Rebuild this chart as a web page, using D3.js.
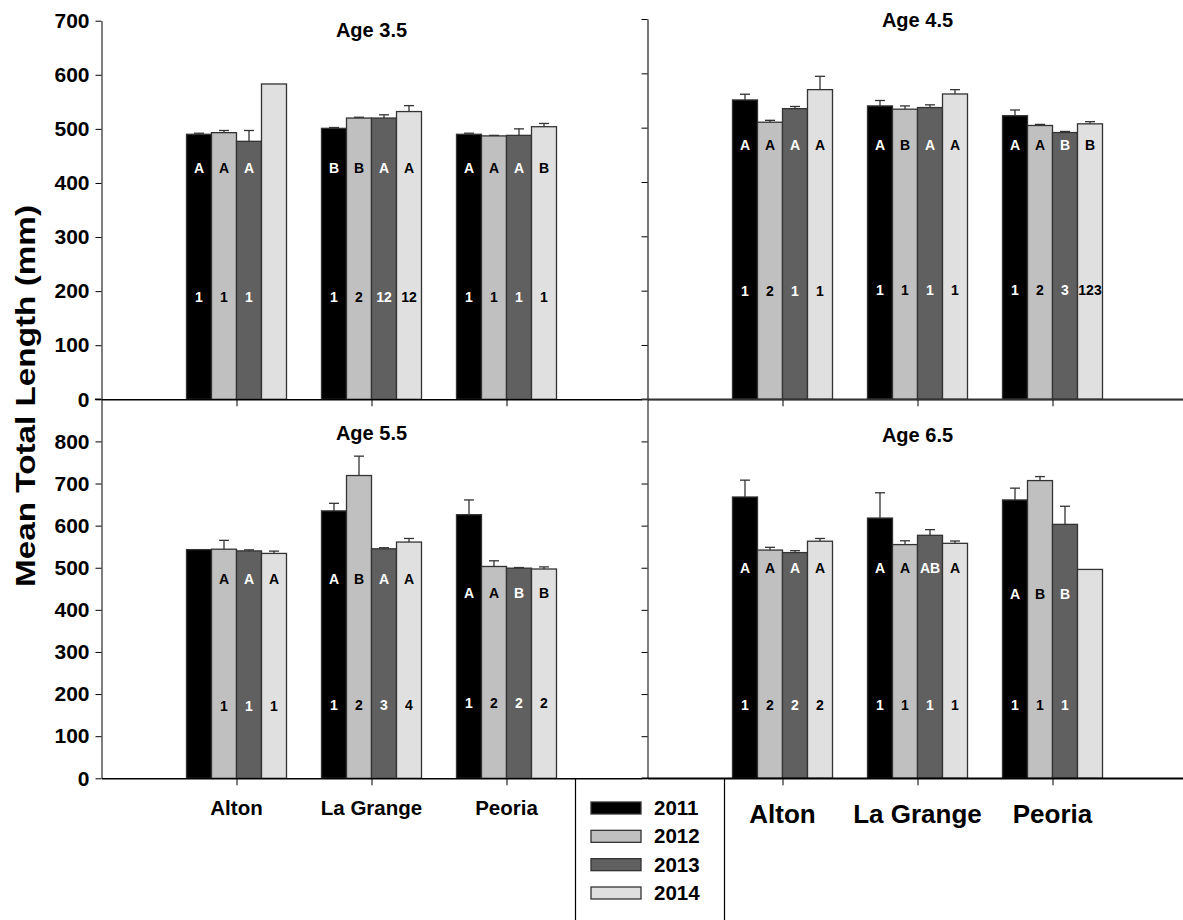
<!DOCTYPE html>
<html>
<head>
<meta charset="utf-8">
<script src="https://cdn.jsdelivr.net/npm/d3@7"></script>
<style>
  html, body { margin: 0; padding: 0; background: #fff; }
  svg { display: block; font-family: "Liberation Sans", Arial, sans-serif; font-weight: bold; }
</style>
</head>
<body>
<svg id="chart" width="1183" height="920"></svg>
<script>
// ---------------- DATA ----------------
const sites = ["Alton", "La Grange", "Peoria"];
const years = ["2011", "2012", "2013", "2014"];
const ageTitles = ["Age 3.5", "Age 4.5", "Age 5.5", "Age 6.5"];
const yTicksTop = [0, 100, 200, 300, 400, 500, 600, 700];
const yTicksBottom = [0, 100, 200, 300, 400, 500, 600, 700, 800];

// mean total length (mm) [site][year]
const meanAge35 = [[490, 493, 477, 583], [501, 520, 520, 532], [490, 487, 488, 504]];
const meanAge45 = [[551, 510, 535, 570], [540, 534, 537, 562], [522, 504, 491, 507]];
const meanAge55 = [[543, 544, 540, 534], [635, 719, 545, 561], [626, 503, 499, 497]];
const meanAge65 = [[668, 542, 536, 563], [618, 555, 577, 558], [661, 707, 603, 496]];
// standard error (upper bar)
const seAge35 = [[2, 4, 20, 0], [1.5, 1.5, 6, 11], [2, 1, 12, 6]];
const seAge45 = [[10.5, 3.5, 4, 24.5], [10, 6, 5, 8], [10.5, 2, 2, 4]];
const seAge55 = [[0, 21, 2.5, 5.5], [18, 46, 2.5, 8.5], [35, 13.5, 1.5, 5]];
const seAge65 = [[40, 6.5, 4.5, 6.5], [60, 9, 13.5, 5.5], [28, 9.5, 43, 0]];
// significance letters (among sites) and numbers (among years)
const lettersAge35 = [["A", "A", "A", ""], ["B", "B", "A", "A"], ["A", "A", "A", "B"]];
const lettersAge45 = [["A", "A", "A", "A"], ["A", "B", "A", "A"], ["A", "A", "B", "B"]];
const lettersAge55 = [["", "A", "A", "A"], ["A", "B", "A", "A"], ["A", "A", "B", "B"]];
const lettersAge65 = [["A", "A", "A", "A"], ["A", "A", "AB", "A"], ["A", "B", "B", ""]];
const numbersAge35 = [["1", "1", "1", ""], ["1", "2", "12", "12"], ["1", "1", "1", "1"]];
const numbersAge45 = [["1", "2", "1", "1"], ["1", "1", "1", "1"], ["1", "2", "3", "123"]];
const numbersAge55 = [["", "1", "1", "1"], ["1", "2", "3", "4"], ["1", "2", "2", "2"]];
const numbersAge65 = [["1", "2", "2", "2"], ["1", "1", "1", "1"], ["1", "1", "1", ""]];

// ---------------- LAYOUT ----------------
const colors = { "2011": "#000000", "2012": "#c0c0c0", "2013": "#606060", "2014": "#e0e0e0" };
const step = 135;
const panels = [
  { title: ageTitles[0], mean: meanAge35, se: seAge35, letters: lettersAge35, numbers: numbersAge35,
    ax: 101.5, y0: 399.3, yTop: 20.7, ymax: 700, ticks: yTicksTop, labels: true, titleY: 37,
    letterLv: [428, 428, 428], numberLv: [189, 189, 189], axisColor: "#000" },
  { title: ageTitles[1], mean: meanAge45, se: seAge45, letters: lettersAge45, numbers: numbersAge45,
    ax: 647.5, y0: 399.3, yTop: 19, ymax: 700, ticks: yTicksTop, labels: false, titleY: 27,
    letterLv: [468, 468, 468], numberLv: [199, 202, 202], axisColor: "#777" },
  { title: ageTitles[2], mean: meanAge55, se: seAge55, letters: lettersAge55, numbers: numbersAge55,
    ax: 101.5, y0: 778.3, yTop: 399.3, ymax: 900, ticks: yTicksBottom, labels: true, titleY: 440,
    letterLv: [474, 474, 440], numberLv: [172, 174, 178], axisColor: "#000" },
  { title: ageTitles[3], mean: meanAge65, se: seAge65, letters: lettersAge65, numbers: numbersAge65,
    ax: 647.5, y0: 778.3, yTop: 399.3, ymax: 900, ticks: yTicksBottom, labels: false, titleY: 442,
    letterLv: [500, 500, 438], numberLv: [174, 174, 174], axisColor: "#000" }
];

const svg = d3.select("#chart");
const inner = d3.scaleBand().domain(years).range([-50, 50]).padding(0);

panels.forEach((p, pi) => {
  const x = d3.scalePoint().domain(["", ...sites, " "]).range([p.ax, p.ax + 4 * step]);
  const y = d3.scaleLinear().domain([0, p.ymax]).range([p.y0, p.yTop]);
  const g = svg.append("g");

  // y axis
  const yAxis = d3.axisLeft(y).tickValues(p.ticks).tickSize(6).tickSizeOuter(0)
    .tickFormat(p.labels ? d3.format("d") : () => "");
  const ya = g.append("g").attr("transform", `translate(${p.ax},0)`).call(yAxis);
  ya.select(".domain").attr("stroke", p.axisColor).attr("stroke-width", p.axisColor === "#000" ? 1 : 2);
  ya.selectAll(".tick line").attr("stroke", "#000");
  ya.selectAll(".tick text").attr("font-size", 21).attr("font-weight", "bold")
    .attr("font-family", "Liberation Sans, Arial, sans-serif").attr("fill", "#000").attr("dx", -3);

  // bars
  sites.forEach((s, si) => {
    years.forEach((yr, yi) => {
      const v = p.mean[si][yi];
      const e = p.se[si][yi];
      const bx = x(s) + inner(yr);
      const bw = inner.bandwidth();
      g.append("rect")
        .attr("x", bx).attr("y", y(v))
        .attr("width", bw).attr("height", y(0) - y(v))
        .attr("fill", colors[yr])
        .attr("stroke", "#333").attr("stroke-width", 1.3);
      if (e > 0) {
        const cx = bx + bw / 2;
        g.append("line").attr("x1", cx).attr("x2", cx).attr("y1", y(v)).attr("y2", y(v + e))
          .attr("stroke", "#333").attr("stroke-width", 1.3);
        g.append("line").attr("x1", cx - 5).attr("x2", cx + 5).attr("y1", y(v + e)).attr("y2", y(v + e))
          .attr("stroke", "#333").attr("stroke-width", 1.3);
      }
      const txtColor = (yr === "2011" || yr === "2013") ? "#fff" : "#000";
      const lt = p.letters[si][yi];
      if (lt) {
        g.append("text").attr("x", bx + bw / 2).attr("y", y(p.letterLv[si]))
          .attr("text-anchor", "middle").attr("dominant-baseline", "central")
          .attr("font-size", 14).attr("fill", txtColor).text(lt);
      }
      const nt = p.numbers[si][yi];
      if (nt) {
        g.append("text").attr("x", bx + bw / 2).attr("y", y(p.numberLv[si]))
          .attr("text-anchor", "middle").attr("dominant-baseline", "central")
          .attr("font-size", 14).attr("fill", txtColor).text(nt);
      }
    });
  });

  // x axis
  const xAxis = d3.axisBottom(x).tickValues(sites).tickSize(7).tickSizeOuter(0).tickFormat(() => "");
  const xa = g.append("g").attr("transform", `translate(0,${p.y0})`).call(xAxis);
  xa.select(".domain").attr("stroke", "#000").attr("stroke-width", 1.5);

  // title
  g.append("text").attr("x", x(sites[1])).attr("y", p.titleY)
    .attr("text-anchor", "middle").attr("font-size", 20).attr("fill", "#000").text(p.title);
});

// extend axis lines between/around panels
svg.append("line").attr("x1", 95).attr("x2", 101.5).attr("y1", 399.3).attr("y2", 399.3).attr("stroke", "#000").attr("stroke-width", 1.5);
svg.append("line").attr("x1", 641.5).attr("x2", 1183).attr("y1", 399.3).attr("y2", 399.3).attr("stroke", "#333").attr("stroke-width", 1.5);
svg.append("line").attr("x1", 641.5).attr("x2", 1183).attr("y1", 778.3).attr("y2", 778.3).attr("stroke", "#000").attr("stroke-width", 1.5);

// x category labels (bottom panels)
const xl = d3.scalePoint().domain(["", ...sites, " "]).range([101.5, 101.5 + 4 * step]);
const xr = d3.scalePoint().domain(["", ...sites, " "]).range([647.5, 647.5 + 4 * step]);
svg.append("g").selectAll("text").data(sites).join("text")
  .attr("x", d => xl(d)).attr("y", 815).attr("text-anchor", "middle")
  .attr("font-size", 20.5).attr("fill", "#000").text(d => d);
svg.append("g").selectAll("text").data(sites).join("text")
  .attr("x", d => xr(d)).attr("y", 823).attr("text-anchor", "middle")
  .attr("font-size", 26).attr("fill", "#000").text(d => d);

// y title
svg.append("text").attr("transform", "translate(35,396) rotate(-90)")
  .attr("text-anchor", "middle").attr("font-size", 28).attr("fill", "#000")
  .attr("textLength", 382).attr("lengthAdjust", "spacingAndGlyphs")
  .text("Mean Total Length (mm)");

// legend
const lg = svg.append("g");
lg.append("path").attr("d", "M575.5,778 V920 M724.5,778 V920").attr("stroke", "#000").attr("stroke-width", 1.2).attr("fill", "none");
const ly = d3.scalePoint().domain(years).range([808, 893]);
years.forEach(yr => {
  lg.append("rect").attr("x", 591).attr("y", ly(yr) - 6).attr("width", 50).attr("height", 12)
    .attr("fill", colors[yr]).attr("stroke", "#333").attr("stroke-width", 1.3);
  lg.append("text").attr("x", 654).attr("y", ly(yr) + 7).attr("font-size", 20.5).attr("fill", "#000").text(yr);
});
</script>
</body>
</html>
